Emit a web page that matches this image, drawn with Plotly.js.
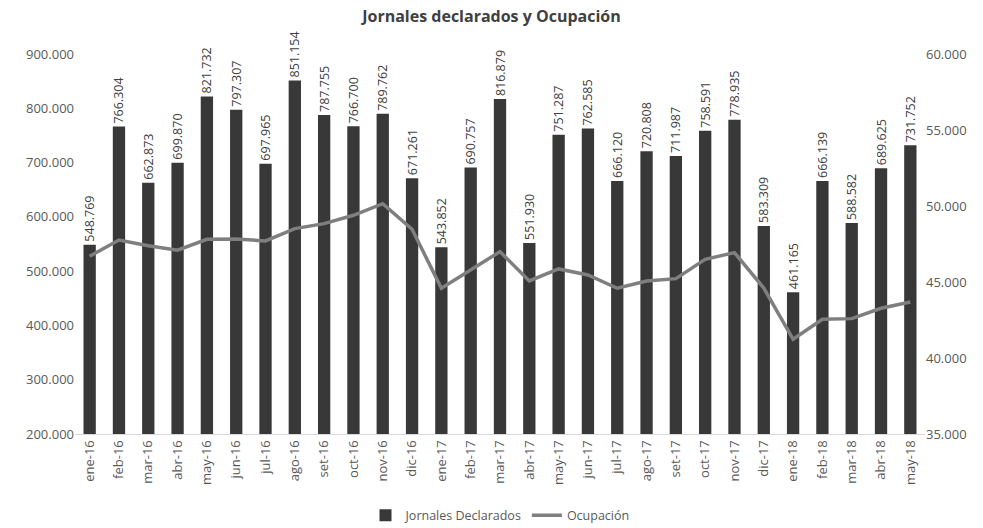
<!DOCTYPE html>
<html>
<head>
<meta charset="utf-8">
<script src="https://cdn.plot.ly/plotly-3.0.1.min.js"></script>
<style>html,body{margin:0;padding:0;background:#fff;}#chart{width:983px;height:528px;}</style>
</head>
<body>
<div id="chart"></div>
<script>
const months = ["ene-16","feb-16","mar-16","abr-16","may-16","jun-16","jul-16","ago-16","set-16","oct-16","nov-16","dic-16",
"ene-17","feb-17","mar-17","abr-17","may-17","jun-17","jul-17","ago-17","set-17","oct-17","nov-17","dic-17",
"ene-18","feb-18","mar-18","abr-18","may-18"];
const jornales = [548769,766304,662873,699870,821732,797307,697965,851154,787755,766700,789762,671261,
543852,690757,816879,551930,751287,762585,666120,720808,711987,758591,778935,583309,
461165,666139,588582,689625,731752];
const ocupacion = [46700,47760,47390,47090,47810,47830,47700,48510,48840,49390,50150,48470,
44590,45790,47000,45070,45860,45460,44590,45070,45220,46490,46930,44600,
41230,42550,42590,43270,43680];

const font = "'Open Sans', 'Liberation Sans', sans-serif";
const traces = [
  {type:'bar', name:'Jornales Declarados', x:months, y:jornales,
   marker:{color:'#383838'}, texttemplate:'%{y:,.0f}', textposition:'outside',
   textangle:-90, constraintext:'none',
   textfont:{family:font, size:12.5, color:'#404040'}, cliponaxis:false},
  {type:'scatter', mode:'lines', name:'Ocupación', x:months, y:ocupacion, yaxis:'y2',
   line:{color:'#7f7f7f', width:3.5}}
];
const layout = {
  width:983, height:528,
  separators:',.',
  margin:{l:75, r:58, t:54, b:94, autoexpand:false},
  paper_bgcolor:'#fff', plot_bgcolor:'#fff',
  font:{family:font, color:'#595959', size:13},
  title:{text:'<b>Jornales declarados y Ocupación</b>', x:0.5, xanchor:'center', y:0.98, yanchor:'top',
         font:{family:font, size:16, color:'#404040'}},
  bargap:0.58,
  showlegend:true,
  legend:{orientation:'h', x:0.5, xanchor:'center', y:-0.175, yanchor:'top', font:{size:12.5, color:'#595959'}},
  xaxis:{type:'category', tickangle:-90, showline:true, linecolor:'#d9d9d9', linewidth:1,
         ticks:'', showgrid:false, tickfont:{size:13, color:'#595959'}},
  yaxis:{range:[200000,900000], tickvals:[200000,300000,400000,500000,600000,700000,800000,900000],
         tickformat:',.0f', showgrid:false, zeroline:false, showline:false, ticks:'',
         tickfont:{size:13, color:'#595959'}},
  yaxis2:{range:[35000,60000], tickvals:[35000,40000,45000,50000,55000,60000], tickformat:',.0f',
          overlaying:'y', side:'right', showgrid:false, zeroline:false, showline:false, ticks:'',
          tickfont:{size:13, color:'#595959'}}
};
Plotly.newPlot('chart', traces, layout, {displayModeBar:false, staticPlot:true});
</script>
</body>
</html>
